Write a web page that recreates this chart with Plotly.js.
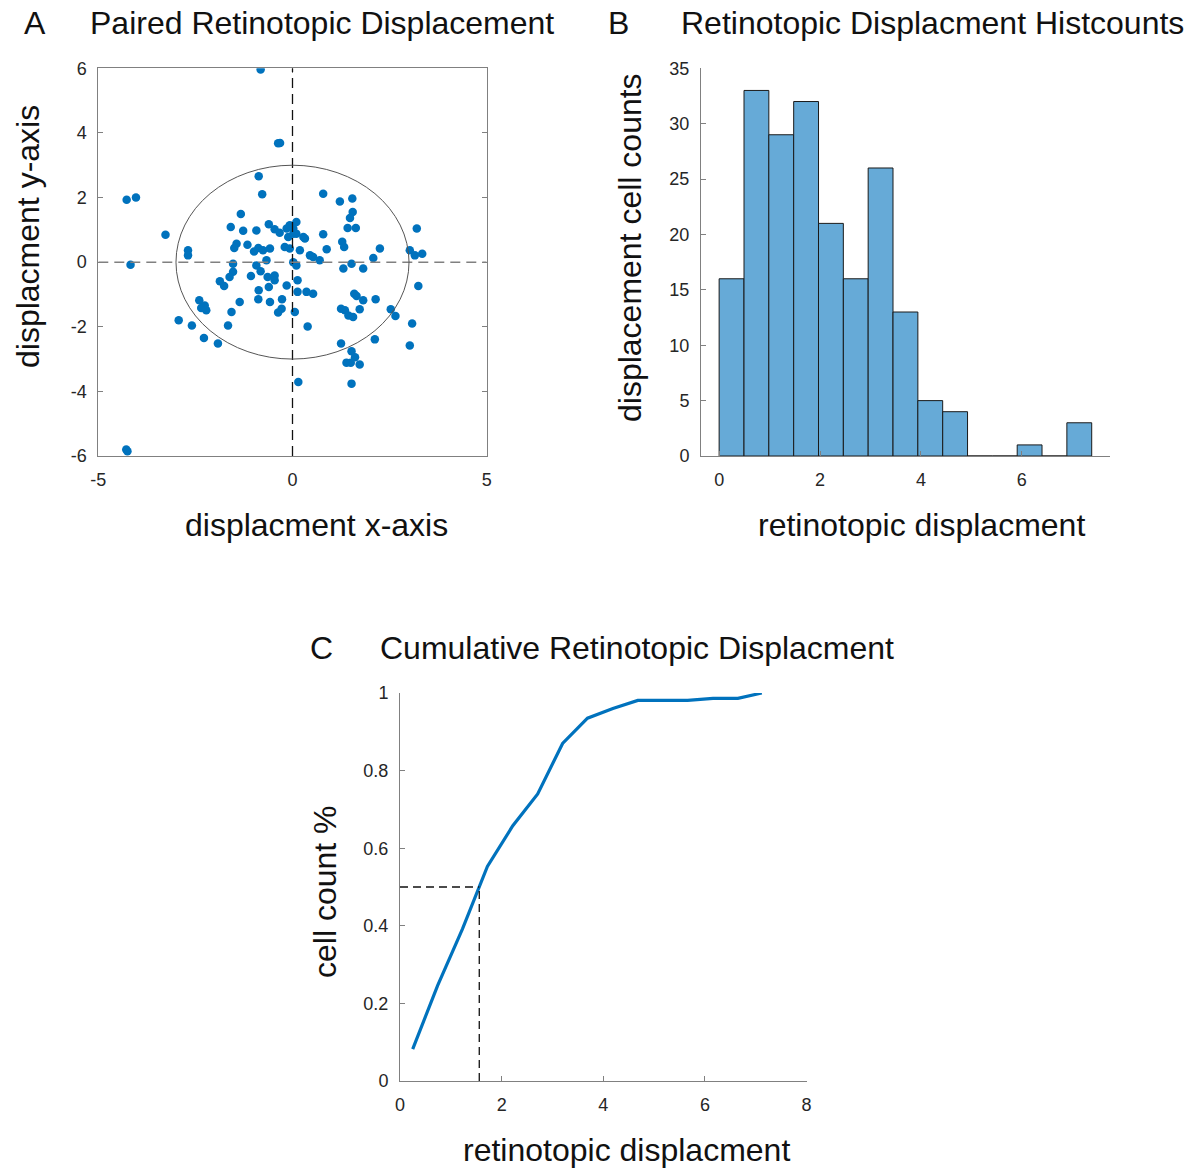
<!DOCTYPE html>
<html>
<head>
<meta charset="utf-8">
<script src="https://cdn.plot.ly/plotly-3.0.1.min.js"></script>
<style>html,body{margin:0;padding:0;background:#fff;}#chart{width:1195px;height:1169px;}</style>
</head>
<body>
<div id="chart"></div>
<script>
// ---- Panel A: paired retinotopic displacement (scatter) ----
const scatterX = [
  -0.82,-0.37,-0.32,-4.27,-4.03,-3.27,-4.17,-4.28,-4.25,0.15,
  -0.87,-0.78,-1.33,-1.59,-1.27,-0.93,-0.61,-0.46,-0.33,-0.15,-0.07,-0.11,0.02,-1.44,-1.16,-1.50,-0.88,-0.99,-0.76,-0.58,-0.20,-0.07,-2.69,-2.69,-1.53,-0.93,-0.67,0.02,
  0.79,1.22,1.54,1.55,1.48,1.42,1.63,0.79,1.28,1.33,0.88,2.25,2.08,3.20,3.02,3.15,3.34,0.10,0.02,0.10,0.28,0.32,0.19,0.45,0.53,0.70,1.31,1.52,1.82,
  -1.53,-1.62,-1.87,-1.76,-1.07,-0.82,-0.64,-0.46,-0.46,-0.61,-0.87,-0.15,-2.40,-2.26,-2.35,-2.22,-1.36,-1.57,-0.88,-0.58,-0.27,-0.28,-0.37,-2.93,-2.59,-1.66,-2.28,-1.92,
  0.10,0.13,0.13,0.36,0.53,0.06,0.39,1.59,1.65,1.82,2.14,1.25,1.35,1.44,1.56,1.73,2.53,2.65,3.08,3.24,2.12,1.25,3.02,1.52,1.61,1.39,1.50,1.73,1.52
];
const scatterY = [
  5.96,3.68,3.69,1.93,2.00,0.85,-0.08,-5.80,-5.85,-3.71,
  2.66,2.10,1.49,1.09,0.97,0.98,1.17,1.02,0.91,1.04,1.14,0.78,0.88,0.57,0.54,0.44,0.44,0.33,0.37,0.42,0.47,0.42,0.37,0.21,-0.05,-0.10,0.06,0.00,
  2.12,1.88,1.97,1.55,1.37,1.06,1.06,0.86,0.63,0.47,0.40,0.42,0.13,1.04,0.37,0.21,0.26,1.24,1.04,0.88,0.78,0.73,0.37,0.21,0.16,0.06,-0.20,-0.05,-0.20,
  -0.30,-0.46,-0.59,-0.74,-0.43,-0.28,-0.46,-0.41,-0.56,-0.77,-0.87,-0.72,-1.18,-1.34,-1.42,-1.49,-1.23,-1.54,-1.15,-1.23,-1.15,-1.44,-1.56,-1.80,-1.96,-1.96,-2.35,-2.52,
  -0.10,-0.56,-0.92,-0.92,-0.98,-1.54,-1.99,-0.98,-1.05,-1.18,-1.15,-1.44,-1.49,-1.65,-1.70,-1.46,-1.46,-1.67,-1.90,-0.74,-2.39,-2.52,-2.58,-2.76,-2.94,-3.11,-3.11,-3.17,-3.76
];
const circleRadius = 3;
const axisAX = [-5, 5];
const axisAY = [-6, 6];
const ticksAX = [-5, 0, 5];
const ticksAY = [-6, -4, -2, 0, 2, 4, 6];

// ---- Panel B: histogram counts ----
const binCenters = [0.246,0.739,1.231,1.724,2.216,2.709,3.201,3.694,4.186,4.679,5.171,5.664,6.156,6.649,7.141];
const binCounts  = [16,33,29,32,21,16,26,13,5,4,0,0,1,0,3];
const binWidth = 0.4925;
const ticksBX = [0, 2, 4, 6];
const ticksBY = [0, 5, 10, 15, 20, 25, 30, 35];

// ---- Panel C: cumulative fraction ----
const cumX = [0.25,0.74,1.23,1.72,2.22,2.71,3.20,3.69,4.19,4.68,5.17,5.66,6.16,6.65,7.12];
const cumY = [0.082,0.246,0.392,0.553,0.658,0.740,0.870,0.935,0.960,0.981,0.981,0.981,0.986,0.986,1.000];
const medianX = 1.56;
const medianY = 0.5;
const ticksCX = [0, 2, 4, 6, 8];
const ticksCY = [0, 0.2, 0.4, 0.6, 0.8, 1];

const W = 1195, H = 1169;
const px = v => v / W;
const py = v => 1 - v / H;
const FONT = 'Liberation Sans, Arial, sans-serif';
const tickFont = {family: FONT, size: 18, color: '#262626'};
const AXC = '#808080';

const traces = [
  {type: 'scatter', mode: 'markers', x: scatterX, y: scatterY, xaxis: 'x', yaxis: 'y',
   marker: {color: '#0072BD', size: 8.5}, hoverinfo: 'x+y'},
  {type: 'bar', x: binCenters, y: binCounts, width: binWidth, xaxis: 'x2', yaxis: 'y2',
   marker: {color: 'rgb(102,170,215)', line: {color: '#1a1a1a', width: 1}}},
  {type: 'scatter', mode: 'lines', x: cumX, y: cumY, xaxis: 'x3', yaxis: 'y3',
   line: {color: '#0072BD', width: 3.2}}
];

function ax(vals, extra) {
  return Object.assign({
    showgrid: false, zeroline: false, showline: true, linecolor: AXC, linewidth: 1,
    ticks: 'inside', ticklen: 5, tickcolor: AXC, tickfont: tickFont, tickmode: 'array',
    tickvals: vals, ticktext: vals.map(String), ticklabelstandoff: 7
  }, extra);
}

const layout = {
  width: W, height: H, margin: {l: 0, r: 0, t: 0, b: 0},
  paper_bgcolor: '#fff', plot_bgcolor: '#fff', showlegend: false, bargap: 0,
  xaxis: ax(ticksAX, {domain: [px(98.3), px(486.7)], range: axisAX, anchor: 'y', mirror: 'ticks'}),
  yaxis: ax(ticksAY, {domain: [py(456), py(68.3)], range: axisAY, anchor: 'x', mirror: 'ticks'}),
  xaxis2: ax(ticksBX, {domain: [px(701), px(1110)], range: [-0.36, 7.75], anchor: 'y2'}),
  yaxis2: ax(ticksBY, {domain: [py(456), py(68.3)], range: [0, 35], anchor: 'x2'}),
  xaxis3: ax(ticksCX, {domain: [px(400), px(806.5)], range: [0, 8], anchor: 'y3'}),
  yaxis3: ax(ticksCY, {domain: [py(1081), py(693)], range: [0, 1], anchor: 'x3'}),
  shapes: [
    {type: 'line', xref: 'x', yref: 'y', x0: 0, x1: 0, y0: axisAY[0], y1: axisAY[1],
     line: {color: '#111', width: 1.3, dash: '10px,6px'}},
    {type: 'line', xref: 'x', yref: 'y', x0: axisAX[0], x1: axisAX[1], y0: 0, y1: 0,
     line: {color: '#808080', width: 1.5, dash: '10px,6px'}},
    {type: 'circle', xref: 'x', yref: 'y', x0: -circleRadius, x1: circleRadius, y0: -circleRadius, y1: circleRadius,
     line: {color: '#555', width: 1}},
    {type: 'line', xref: 'x3', yref: 'y3', x0: 0, x1: medianX, y0: medianY, y1: medianY,
     line: {color: '#111', width: 1.3, dash: '8px,5px'}},
    {type: 'line', xref: 'x3', yref: 'y3', x0: medianX, x1: medianX, y0: 0, y1: medianY,
     line: {color: '#111', width: 1.3, dash: '8px,5px'}}
  ],
  annotations: []
};

function ann(text, x, y, opts) {
  layout.annotations.push(Object.assign({
    text: text, xref: 'paper', yref: 'paper', x: px(x), y: py(y), showarrow: false,
    xanchor: 'left', yanchor: 'middle', font: {family: FONT, size: 32, color: '#111'}
  }, opts || {}));
}
ann('A', 22, 23);
ann('Paired Retinotopic Displacement', 88, 23);
ann('B', 606, 23);
ann('Retinotopic Displacment Histcounts', 679, 23);
ann('C', 308, 648);
ann('Cumulative Retinotopic Displacment', 378, 648);
ann('displacment x-axis', 316, 525, {xanchor: 'center'});
ann('retinotopic displacment', 921, 525, {xanchor: 'center'});
ann('retinotopic displacment', 626, 1150, {xanchor: 'center'});
ann('displacment y-axis', 28, 237, {xanchor: 'center', textangle: -90});
ann('displacement cell counts', 630, 248, {xanchor: 'center', textangle: -90});
ann('cell count %', 325, 892, {xanchor: 'center', textangle: -90});

Plotly.newPlot('chart', traces, layout, {staticPlot: true});
</script>
</body>
</html>
